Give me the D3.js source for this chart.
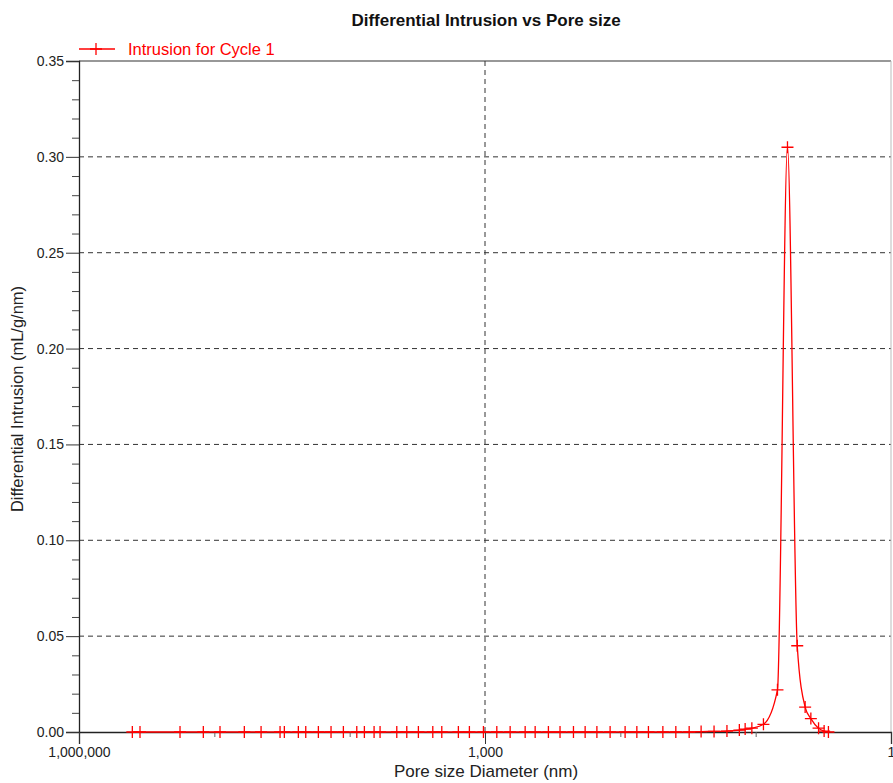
<!DOCTYPE html>
<html>
<head>
<meta charset="utf-8">
<script src="https://cdn.jsdelivr.net/npm/d3@7"></script>
<style>
  body { margin: 0; background: #fff; }
  svg { display: block; font-family: "Liberation Sans", Arial, sans-serif; }
</style>
</head>
<body>
<div id="chart"></div>
<script>
// pore size (nm)
var poreSize = [403600, 354200, 179300, 120600, 90800, 60020, 45150, 32690, 30380, 23940,
  21110, 17030, 13730, 11130, 8860, 7785, 6600, 5962, 4486, 3784,
  3106, 2431, 2086, 1573, 1304, 1027, 818, 652, 505, 426,
  340, 279, 222, 182, 149, 119, 92.2, 75.5, 62.0, 48.5,
  38.9, 31.0, 25.3, 20.3, 16.3, 13.2, 11.96, 10.67, 8.76, 6.90,
  5.82, 4.93, 4.31, 3.91, 3.43, 3.12, 2.90];
// differential intrusion (mL/g/nm)
var intrusion = [0, 0, 0, 0, 0, 0, 0, 0, 0, 0,
  0, 0, 0, 0, 0, 0, 0, 0, 0, 0,
  0, 0, 0, 0, 0, 0, 0, 0, 0, 0,
  0, 0, 0, 0, 0, 0, 0, 0, 0, 0,
  0, 0, 0.0002, 0.0003, 0.0005, 0.001, 0.0015, 0.002, 0.004, 0.022,
  0.305, 0.045, 0.013, 0.007, 0.002, 0.0005, 0];

var yMajor = [0, 0.05, 0.10, 0.15, 0.20, 0.25, 0.30, 0.35];
var yGrid = [0.05, 0.10, 0.15, 0.20, 0.25, 0.30];
var yMinor = [0.01,0.02,0.03,0.04,0.06,0.07,0.08,0.09,0.11,0.12,0.13,0.14,0.16,0.17,0.18,0.19,
  0.21,0.22,0.23,0.24,0.26,0.27,0.28,0.29,0.31,0.32,0.33,0.34];
var xMajor = [1000000, 1000, 1];
var xGrid = [1000];
var xMinor = [100000, 10000, 100, 10];

var chart_width = 893;
var chart_height = 783;
var plotLeft = 79, plotRight = 891, plotTop = 61, plotBottom = 732;
var red = '#ff0000';

var svg = d3.select('#chart')
    .append('svg')
    .attr('width', chart_width)
    .attr('height', chart_height);

var x = d3.scaleLog().domain([1000000, 1]).range([plotLeft, plotRight]);
var y = d3.scaleLinear().domain([0, 0.35]).range([plotBottom, plotTop]);

// grid
svg.selectAll('.hgrid')
    .data(yGrid)
    .enter()
    .append('line')
    .attr('x1', plotLeft).attr('x2', plotRight)
    .attr('y1', function(d){ return y(d); })
    .attr('y2', function(d){ return y(d); })
    .attr('stroke', '#333').attr('stroke-dasharray', '5,4');

svg.selectAll('.vgrid')
    .data(xGrid)
    .enter()
    .append('line')
    .attr('x1', function(d){ return x(d); })
    .attr('x2', function(d){ return x(d); })
    .attr('y1', plotTop).attr('y2', plotBottom)
    .attr('stroke', '#333').attr('stroke-dasharray', '5,4');

// frame top / right
svg.append('line').attr('x1', plotLeft).attr('x2', plotRight).attr('y1', plotTop).attr('y2', plotTop)
    .attr('stroke', '#333').attr('stroke-width', 1.2);
svg.append('line').attr('x1', plotRight).attr('x2', plotRight).attr('y1', plotTop).attr('y2', plotBottom)
    .attr('stroke', '#bbb');

// y axis
var yAxis = svg.append('g')
    .attr('transform', 'translate(' + plotLeft + ',0)')
    .call(d3.axisLeft(y).tickValues(yMajor).tickSize(13).tickPadding(2).tickFormat(d3.format('.2f')));
yAxis.select('.domain').attr('stroke', '#222').attr('stroke-width', 1.3);
yAxis.selectAll('.tick line').attr('stroke', '#333');
yAxis.selectAll('text').attr('font-size', 14).attr('fill', '#222');

svg.append('g')
    .attr('transform', 'translate(' + plotLeft + ',0)')
    .call(d3.axisLeft(y).tickValues(yMinor).tickSize(7).tickFormat(''))
    .call(function(g){ g.select('.domain').remove(); })
    .selectAll('.tick line').attr('stroke', '#444');

// x axis
var xAxis = svg.append('g')
    .attr('transform', 'translate(0,' + plotBottom + ')')
    .call(d3.axisBottom(x).tickValues(xMajor).tickSize(12).tickPadding(3).tickFormat(d3.format(',')));
xAxis.select('.domain').attr('stroke', '#222').attr('stroke-width', 1.3);
xAxis.selectAll('.tick line').attr('stroke', '#333');
xAxis.selectAll('text').attr('font-size', 14).attr('fill', '#222');

svg.append('g')
    .attr('transform', 'translate(0,' + plotBottom + ')')
    .call(d3.axisBottom(x).tickValues(xMinor).tickSize(5).tickFormat(''))
    .call(function(g){ g.select('.domain').remove(); })
    .selectAll('.tick line').attr('stroke', '#666');

// series
var points = poreSize.map(function(d, i){ return [d, intrusion[i]]; });

var line = d3.line()
    .x(function(d){ return x(d[0]); })
    .y(function(d){ return y(d[1]); })
    .curve(d3.curveMonotoneX);

svg.append('path')
    .datum(points)
    .attr('d', line)
    .attr('fill', 'none')
    .attr('stroke', red)
    .attr('stroke-width', 1.3);

svg.selectAll('.pt')
    .data(points)
    .enter()
    .append('path')
    .attr('transform', function(d){ return 'translate(' + x(d[0]) + ',' + y(d[1]) + ')'; })
    .attr('d', 'M-6,0H6M0,-6V6')
    .attr('stroke', red)
    .attr('stroke-width', 1.3)
    .attr('fill', 'none');

// legend
svg.append('line').attr('x1', 79).attr('x2', 115).attr('y1', 49).attr('y2', 49)
    .attr('stroke', red).attr('stroke-width', 1.3);
svg.append('path').attr('d', 'M90,49H102M96,43V55').attr('stroke', red).attr('stroke-width', 1.3);
svg.append('text').attr('x', 128).attr('y', 55).text('Intrusion for Cycle 1')
    .attr('fill', red).attr('font-size', 16.5);

// titles
svg.append('text').attr('x', 486).attr('y', 26).attr('text-anchor', 'middle')
    .attr('font-size', 17).attr('font-weight', 'bold').attr('fill', '#111')
    .text('Differential Intrusion vs Pore size');

svg.append('text').attr('x', 486).attr('y', 777).attr('text-anchor', 'middle')
    .attr('font-size', 17).attr('fill', '#222')
    .text('Pore size Diameter (nm)');

svg.append('text')
    .attr('transform', 'translate(23,' + 399 + ') rotate(-90)')
    .attr('text-anchor', 'middle')
    .attr('font-size', 16.5).attr('fill', '#222')
    .text('Differential Intrusion (mL/g/nm)');
</script>
</body>
</html>
